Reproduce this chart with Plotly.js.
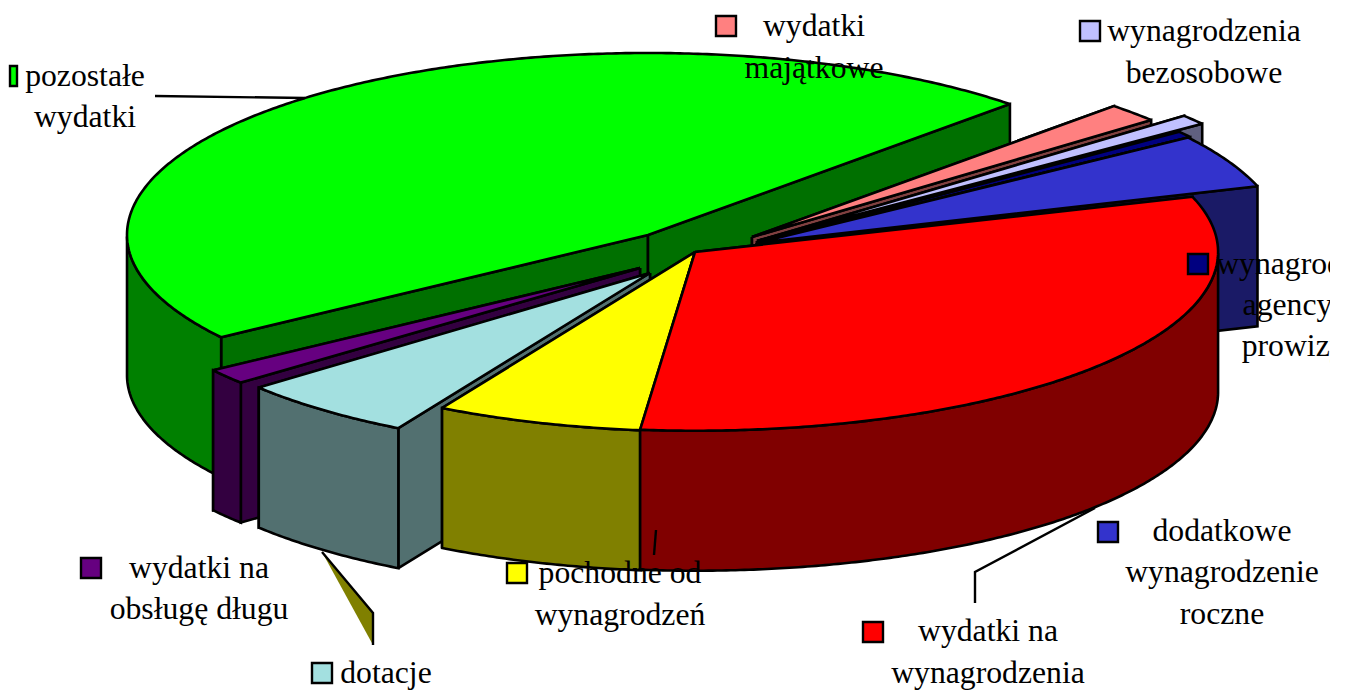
<!DOCTYPE html>
<html><head><meta charset="utf-8">
<script src="https://cdn.plot.ly/plotly-3.0.1.min.js"></script>
<style>html,body{margin:0;padding:0;background:#fff}#c{width:1349px;height:691px}</style>
</head><body><div id="c"></div>
<script>
// Data, clockwise from the first angle
const categories = ["wydatki<br>majątkowe","wynagrodzenia<br>bezosobowe","wynagrodzenia<br>agencyjno-<br>prowizyjne","dodatkowe<br>wynagrodzenie<br>roczne","wydatki na<br>wynagrodzenia","pochodne od<br>wynagrodzeń","dotacje","wydatki na<br>obsługę długu","pozostałe<br>wydatki"];
const values = [1.67, 0.83, 0.56, 4.72, 31.67, 6.53, 5.69, 1.39, 46.94];
// Styles
const topColors  = ["#FF8080","#C0C0FF","#000080","#3333CC","#FF0000","#FFFF00","#A3E0E0","#660080","#00FF00"];
const wallColors = ["#804040","#606080","#000040","#1A1A66","#800000","#808000","#527070","#330040","#008000"];
const faceColors = ["#804040","#606080","#000040","#1A1A66","#800000","#808000","#527070","#330040","#007000"];
// Exploded slice centres and radius factors
const centerX = [752,757,757,757,695,695,650,640,648];
const centerY = [237,241,243,243,252,252,273,268,235];
const radiusKx = [1,1.07,1.015,1.01,1.004,0.985,0.98,1,1];
const radiusKy = [1,1.07,1.015,1.01,0.982,0.985,0.98,0.98,0.98];
const drawOrder = [8,0,1,2,3,7,6,5,4];
// Pie projection
const rx = 521, ry = 182, depth = 140, firstAngle = 46;
// Labels
const labelX = [814,1204,1313,1222,988,620,386,199,85];
const labelY = [49,54,307,574.5,654,596,675,590.5,98.5];
const keyX = [726,1090,1198,1108,873,517,322,91,13.5];
const keyY = [26,31,264,532,632,573,673,568,76];
const keyW = [20,20,20,20,20,20,20,20,7];
const total = values.reduce((a,b)=>a+b,0);
const rad = d => d*Math.PI/180;
const traces = [];
function poly(xs, ys, fill){
  traces.push({type:"scatter",mode:"lines",x:xs.concat(xs[0]),y:ys.concat(ys[0]),fill:"toself",fillcolor:fill,
    line:{color:"#000",width:2.6,simplify:false},hoverinfo:"skip",showlegend:false});
}
let a = firstAngle; const spans = values.map(v=>{const s={t1:a,t2:a-v/total*360};a=s.t2;return s;});
function pt(i,t){
  // green keeps the full height on its upper arc
  const ky = (i===8 && Math.sin(rad(t))>0) ? 1 : radiusKy[i];
  return [centerX[i]+radiusKx[i]*rx*Math.cos(rad(t)), centerY[i]-ky*ry*Math.sin(rad(t))];
}
function face(i,t){
  const p=pt(i,t), cx=centerX[i], cy=centerY[i];
  poly([cx,p[0],p[0],cx],[cy,p[1],p[1]+depth,cy+depth],faceColors[i]);
}
drawOrder.forEach(i=>{
  const {t1,t2}=spans[i];
  const faces=[{t:t1,back:Math.cos(rad(t1))>0},{t:t2,back:Math.cos(rad(t2))<0}];
  faces.sort((p,q)=>(q.back?1:0)-(p.back?1:0));
  faces.forEach(f=>face(i,f.t));
  // outer wall: only the part that faces the viewer (sin<0)
  const tx=[],ty=[],bx=[],by=[];
  const N=Math.ceil((t1-t2)*2);
  for(let k=0;k<=N;k++){
    const t=t1-(t1-t2)*k/N;
    if(Math.sin(rad(t))<=0){const p=pt(i,t);tx.push(p[0]);ty.push(p[1]);bx.unshift(p[0]);by.unshift(p[1]+depth);}
  }
  if(tx.length>1) poly(tx.concat(bx),ty.concat(by),wallColors[i]);
  // top
  const xs=[centerX[i]],ys=[centerY[i]];
  for(let k=0;k<=N;k++){const p=pt(i,t1-(t1-t2)*k/N);xs.push(p[0]);ys.push(p[1]);}
  poly(xs,ys,topColors[i]);
});
// labels, clipped by the plot area
traces.push({type:"scatter",mode:"text",x:labelX,y:labelY,text:categories,textposition:"middle center",cliponaxis:true,
  textfont:{family:"'Liberation Serif','Times New Roman',serif",size:31.7,color:"#000"},hoverinfo:"skip",showlegend:false});
// legend keys and leader lines
const shapes = [];
keyX.forEach((x,i)=>{const w=keyW[i]/2,h=10;
  shapes.push({type:"rect",xref:"x",yref:"y",x0:x-w,x1:x+w,y0:keyY[i]-h,y1:keyY[i]+h,fillcolor:topColors[i],line:{color:"#000",width:2.4}});});
const ln={color:"#000",width:2.4};
shapes.push({type:"path",xref:"x",yref:"y",path:"M 155 96 L 305 98",line:ln});
shapes.push({type:"path",xref:"x",yref:"y",path:"M 656 530 L 654 555",line:ln});
shapes.push({type:"path",xref:"x",yref:"y",path:"M 1095 508 L 975 572 L 975 603",line:ln});
shapes.push({type:"path",xref:"x",yref:"y",path:"M 322 552 L 373 613 L 373 645 Z",fillcolor:"#808000",line:{width:0}});
shapes.push({type:"path",xref:"x",yref:"y",path:"M 322 552 L 373 613 L 373 645",line:ln});
Plotly.newPlot("c",traces,{
  width:1349,height:691,margin:{l:0,r:19,t:0,b:0,pad:0},paper_bgcolor:"#fff",plot_bgcolor:"#fff",showlegend:false,
  xaxis:{range:[0,1330],visible:false,fixedrange:true},yaxis:{range:[691,0],visible:false,fixedrange:true},shapes:shapes,hovermode:false
},{displayModeBar:false,staticPlot:true});
</script></body></html>
